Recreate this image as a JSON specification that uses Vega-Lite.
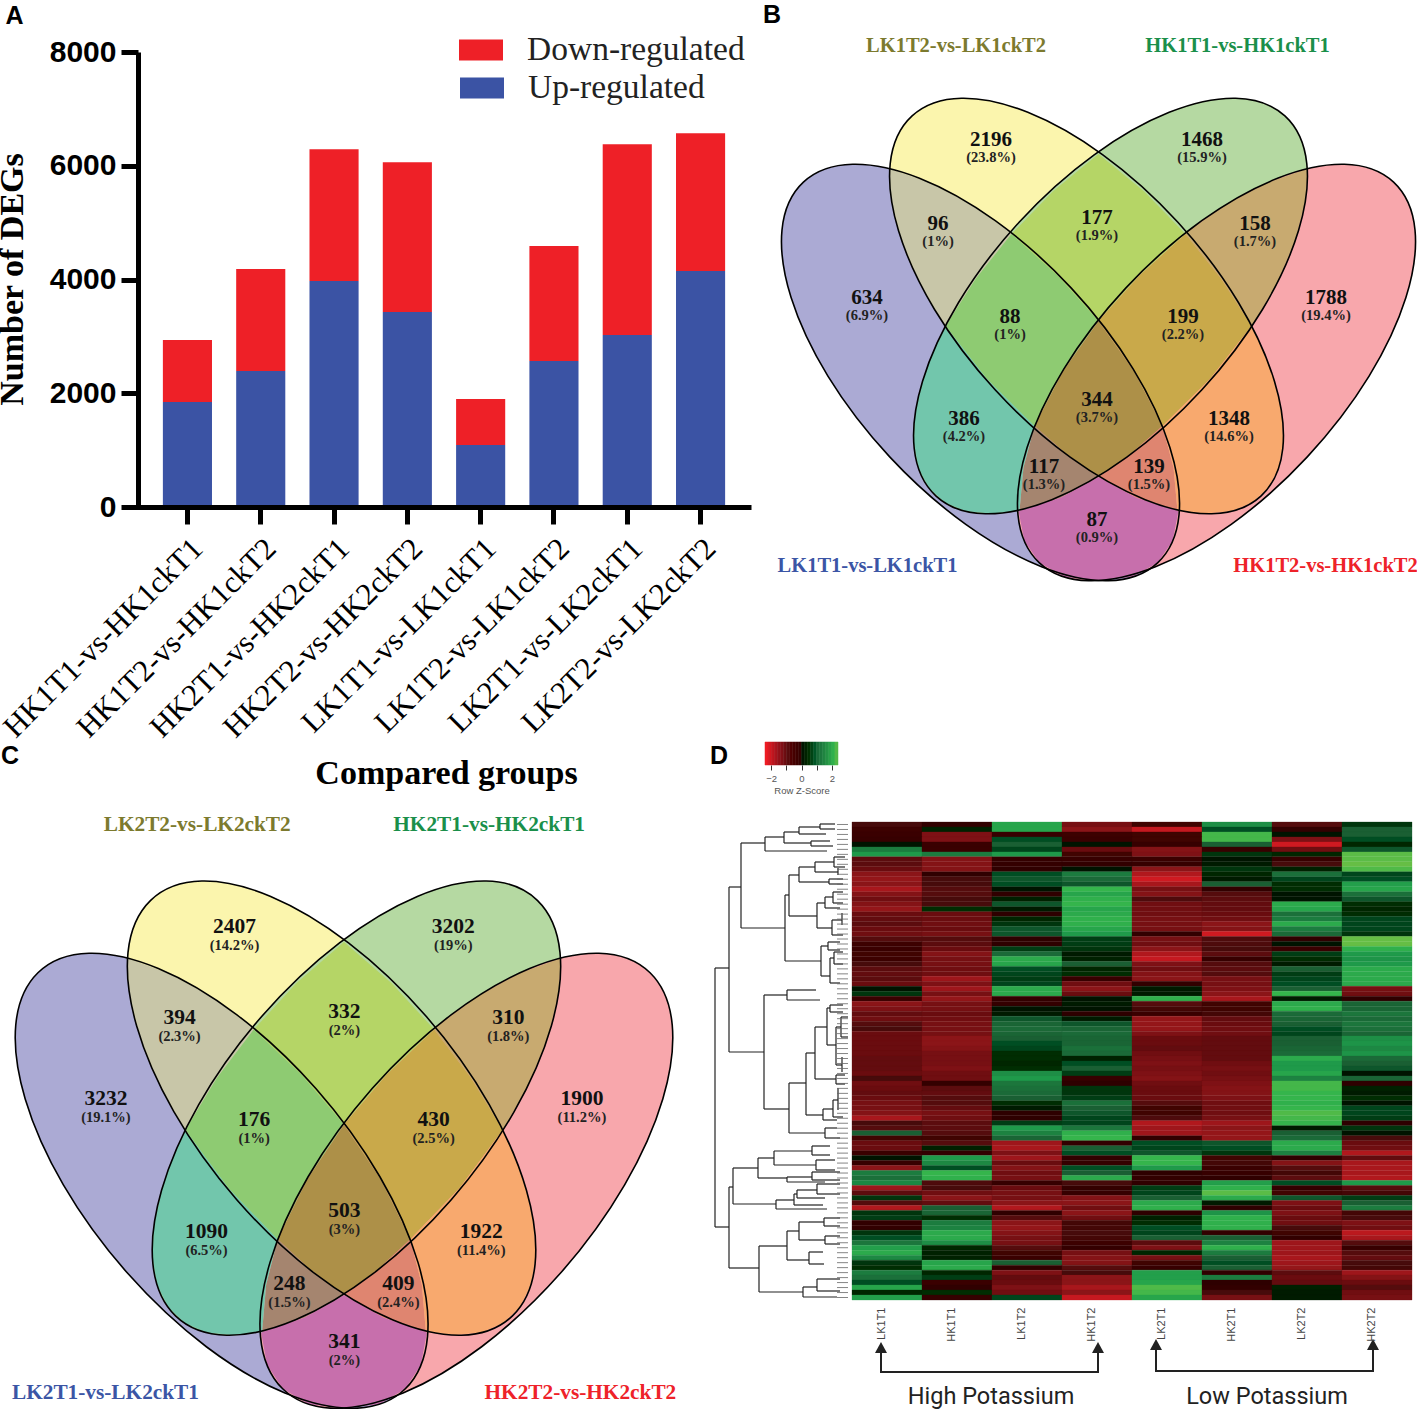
{"$schema":"https://vega.github.io/schema/vega-lite/v6.json","width":1417,"height":1409,"autosize":{"type":"none"},"padding":0,"background":"white","config":{"view":{"stroke":null},"axis":{"grid":false}},
"resolve":{"scale":{"x":"independent","y":"independent","fill":"independent","stroke":"independent","color":"independent","shape":"independent"},"axis":{"x":"independent","y":"independent"}},
"datasets":{
"bars":[{"g":"HK1T1-vs-HK1ckT1","t":"Up-regulated","n":1845,"k":0},{"g":"HK1T1-vs-HK1ckT1","t":"Down-regulated","n":1090,"k":1},{"g":"HK1T2-vs-HK1ckT2","t":"Up-regulated","n":2390,"k":0},{"g":"HK1T2-vs-HK1ckT2","t":"Down-regulated","n":1793,"k":1},{"g":"HK2T1-vs-HK2ckT1","t":"Up-regulated","n":3972,"k":0},{"g":"HK2T1-vs-HK2ckT1","t":"Down-regulated","n":2320,"k":1},{"g":"HK2T2-vs-HK2ckT2","t":"Up-regulated","n":3427,"k":0},{"g":"HK2T2-vs-HK2ckT2","t":"Down-regulated","n":2636,"k":1},{"g":"LK1T1-vs-LK1ckT1","t":"Up-regulated","n":1090,"k":0},{"g":"LK1T1-vs-LK1ckT1","t":"Down-regulated","n":808,"k":1},{"g":"LK1T2-vs-LK1ckT2","t":"Up-regulated","n":2566,"k":0},{"g":"LK1T2-vs-LK1ckT2","t":"Down-regulated","n":2021,"k":1},{"g":"LK2T1-vs-LK2ckT1","t":"Up-regulated","n":3023,"k":0},{"g":"LK2T1-vs-LK2ckT1","t":"Down-regulated","n":3357,"k":1},{"g":"LK2T2-vs-LK2ckT2","t":"Up-regulated","n":4148,"k":0},{"g":"LK2T2-vs-LK2ckT2","t":"Down-regulated","n":2425,"k":1}],
"barLegend":[{"t":"Down-regulated","k":345,"n":8035},{"t":"Up-regulated","k":346,"n":7367}],
"letters":[{"t":"A","x":14.5,"y":15.5},{"t":"B","x":772,"y":15},{"t":"C","x":10,"y":756},{"t":"D","x":719,"y":756}],
"ellipses":[{"e":"b","u":-118,"v":372.5},{"e":"y","u":-12,"v":306},{"e":"g","u":12,"v":306},{"e":"r","u":118,"v":372.5}],
"names":[{"t":"LK1T2-vs-LK1ckT2","t2":"LK2T2-vs-LK2ckT2","e":"y","u":-142.5,"v":45},{"t":"HK1T1-vs-HK1ckT1","t2":"HK2T1-vs-HK2ckT1","e":"g","u":139,"v":45},{"t":"LK1T1-vs-LK1ckT1","t2":"LK2T1-vs-LK2ckT1","e":"b","u":-231,"v":565},{"t":"HK1T2-vs-HK1ckT2","t2":"HK2T2-vs-HK2ckT2","e":"r","u":227,"v":565}],
"venn":[{"u":-107.5,"v":139,"n":"2196","s":"(23.8%)","n2":"2407","s2":"(14.2%)"},{"u":103.5,"v":139,"n":"1468","s":"(15.9%)","n2":"3202","s2":"(19%)"},{"u":-160.5,"v":223,"n":"96","s":"(1%)","n2":"394","s2":"(2.3%)"},{"u":-1.5,"v":217,"n":"177","s":"(1.9%)","n2":"332","s2":"(2%)"},{"u":156.5,"v":223,"n":"158","s":"(1.7%)","n2":"310","s2":"(1.8%)"},{"u":-231.5,"v":297,"n":"634","s":"(6.9%)","n2":"3232","s2":"(19.1%)"},{"u":-88.5,"v":316,"n":"88","s":"(1%)","n2":"176","s2":"(1%)"},{"u":84.5,"v":316,"n":"199","s":"(2.2%)","n2":"430","s2":"(2.5%)"},{"u":227.5,"v":297,"n":"1788","s":"(19.4%)","n2":"1900","s2":"(11.2%)"},{"u":-134.5,"v":418,"n":"386","s":"(4.2%)","n2":"1090","s2":"(6.5%)"},{"u":-1.5,"v":399,"n":"344","s":"(3.7%)","n2":"503","s2":"(3%)"},{"u":130.5,"v":418,"n":"1348","s":"(14.6%)","n2":"1922","s2":"(11.4%)"},{"u":-54.5,"v":466,"n":"117","s":"(1.3%)","n2":"248","s2":"(1.5%)"},{"u":50.5,"v":466,"n":"139","s":"(1.5%)","n2":"409","s2":"(2.4%)"},{"u":-1.5,"v":519,"n":"87","s":"(0.9%)","n2":"341","s2":"(2%)"}],
"patches":[
{"e":"r96","i":0,"u":-209.4,"v":168.6},{"e":"r96","i":1,"u":-169,"v":182.5},{"e":"r96","i":2,"u":-128,"v":204.2},{"e":"r96","i":3,"u":-86.3,"v":233.4},{"e":"r96","i":4,"u":-122.4,"v":278.3},{"e":"r96","i":5,"u":-153,"v":326.5},{"e":"r96","i":6,"u":-178.4,"v":283.6},{"e":"r96","i":7,"u":-196.6,"v":241.1},{"e":"r96","i":8,"u":-206.8,"v":201.5},
{"e":"r158","i":0,"u":209.4,"v":168.6},{"e":"r158","i":1,"u":169,"v":182.5},{"e":"r158","i":2,"u":128,"v":204.2},{"e":"r158","i":3,"u":86.3,"v":233.4},{"e":"r158","i":4,"u":122.4,"v":278.3},{"e":"r158","i":5,"u":153,"v":326.5},{"e":"r158","i":6,"u":178.4,"v":283.6},{"e":"r158","i":7,"u":196.6,"v":241.1},{"e":"r158","i":8,"u":206.8,"v":201.5},
{"e":"r177","i":0,"u":0,"v":154},{"e":"r177","i":1,"u":45.7,"v":191.6},{"e":"r177","i":2,"u":87,"v":234},{"e":"r177","i":3,"u":41.2,"v":275.3},{"e":"r177","i":4,"u":0,"v":321},{"e":"r177","i":5,"u":-41.2,"v":275.3},{"e":"r177","i":6,"u":-87,"v":234},{"e":"r177","i":7,"u":-45.7,"v":191.6},
{"e":"r88","i":0,"u":-87,"v":234},{"e":"r88","i":1,"u":-41.2,"v":275.3},{"e":"r88","i":2,"u":0,"v":321},{"e":"r88","i":3,"u":-35.6,"v":371.3},{"e":"r88","i":4,"u":-64,"v":426},{"e":"r88","i":5,"u":-111.7,"v":378.8},{"e":"r88","i":6,"u":-153,"v":326},{"e":"r88","i":7,"u":-122.4,"v":278.3},
{"e":"r199","i":0,"u":87,"v":234},{"e":"r199","i":1,"u":41.2,"v":275.3},{"e":"r199","i":2,"u":0,"v":321},{"e":"r199","i":3,"u":35.6,"v":371.3},{"e":"r199","i":4,"u":64,"v":426},{"e":"r199","i":5,"u":111.7,"v":378.8},{"e":"r199","i":6,"u":153,"v":326},{"e":"r199","i":7,"u":122.4,"v":278.3},
{"e":"r344","i":0,"u":0,"v":321},{"e":"r344","i":1,"u":35.6,"v":371.3},{"e":"r344","i":2,"u":64,"v":426},{"e":"r344","i":3,"u":33.3,"v":453.1},{"e":"r344","i":4,"u":0,"v":477},{"e":"r344","i":5,"u":-33.3,"v":453.1},{"e":"r344","i":6,"u":-64,"v":426},{"e":"r344","i":7,"u":-35.6,"v":371.3},
{"e":"r117","i":0,"u":-64,"v":426},{"e":"r117","i":1,"u":-33.3,"v":453.1},{"e":"r117","i":2,"u":0,"v":477},{"e":"r117","i":3,"u":-37.9,"v":497.7},{"e":"r117","i":4,"u":-79,"v":511},{"e":"r117","i":5,"u":-75.1,"v":467.9},
{"e":"r139","i":0,"u":64,"v":426},{"e":"r139","i":1,"u":33.3,"v":453.1},{"e":"r139","i":2,"u":0,"v":477},{"e":"r139","i":3,"u":37.9,"v":497.7},{"e":"r139","i":4,"u":79,"v":511},{"e":"r139","i":5,"u":75.1,"v":467.9},
{"e":"r87","i":0,"u":0,"v":477},{"e":"r87","i":1,"u":37.9,"v":497.7},{"e":"r87","i":2,"u":80,"v":511},{"e":"r87","i":3,"u":74.1,"v":541},{"e":"r87","i":4,"u":59.1,"v":562.8},{"e":"r87","i":5,"u":34.1,"v":576.9},{"e":"r87","i":6,"u":0,"v":580.5},{"e":"r87","i":7,"u":-34.1,"v":576.9},{"e":"r87","i":8,"u":-59.1,"v":562.8},{"e":"r87","i":9,"u":-74.1,"v":541},{"e":"r87","i":10,"u":-80,"v":511},{"e":"r87","i":11,"u":-37.9,"v":497.7},
{"e":"r386","i":0,"u":-153,"v":326},{"e":"r386","i":1,"u":-111.7,"v":378.8},{"e":"r386","i":2,"u":-64,"v":426},{"e":"r386","i":3,"u":-75.1,"v":467.9},{"e":"r386","i":4,"u":-79,"v":511},{"e":"r386","i":5,"u":-107.3,"v":513.6},{"e":"r386","i":6,"u":-132.8,"v":511.3},{"e":"r386","i":7,"u":-153.7,"v":502.6},{"e":"r386","i":8,"u":-169.7,"v":488},{"e":"r386","i":9,"u":-180.2,"v":467.9},{"e":"r386","i":10,"u":-184.7,"v":442.8},{"e":"r386","i":11,"u":-183.3,"v":413.6},{"e":"r386","i":12,"u":-175.9,"v":381.2},{"e":"r386","i":13,"u":-166,"v":353.4},
{"e":"r1348","i":0,"u":153,"v":326},{"e":"r1348","i":1,"u":111.7,"v":378.8},{"e":"r1348","i":2,"u":64,"v":426},{"e":"r1348","i":3,"u":75.1,"v":467.9},{"e":"r1348","i":4,"u":79,"v":511},{"e":"r1348","i":5,"u":107.3,"v":513.6},{"e":"r1348","i":6,"u":132.8,"v":511.3},{"e":"r1348","i":7,"u":153.7,"v":502.6},{"e":"r1348","i":8,"u":169.7,"v":488},{"e":"r1348","i":9,"u":180.2,"v":467.9},{"e":"r1348","i":10,"u":184.7,"v":442.8},{"e":"r1348","i":11,"u":183.3,"v":413.6},{"e":"r1348","i":12,"u":175.9,"v":381.2},{"e":"r1348","i":13,"u":166,"v":353.4}],
"dendro":[{"h":0,"h2":0,"p":146,"p2":405},{"h":0,"h2":14,"p":146,"p2":146},{"h":14,"h2":14,"p":65,"p2":230},{"h":14,"h2":26,"p":65,"p2":65},{"h":26,"h2":26,"p":21,"p2":106},{"h":26,"h2":50,"p":21,"p2":21},{"h":50,"h2":50,"p":15,"p2":29},{"h":50,"h2":69,"p":15,"p2":15},{"h":69,"h2":69,"p":10,"p2":21},{"h":69,"h2":84,"p":10,"p2":10},{"h":84,"h2":84,"p":5,"p2":12},{"h":84,"h2":105,"p":5,"p2":5},{"h":105,"h2":105,"p":2,"p2":7},{"h":105,"h2":120,"p":2,"p2":2},{"h":105,"h2":120,"p":7,"p2":7},{"h":84,"h2":111,"p":12,"p2":12},{"h":69,"h2":96,"p":21,"p2":21},{"h":96,"h2":96,"p":19,"p2":24},{"h":96,"h2":115,"p":19,"p2":19},{"h":96,"h2":118,"p":24,"p2":24},{"h":50,"h2":112,"p":29,"p2":29},{"h":26,"h2":70,"p":106,"p2":106},{"h":70,"h2":70,"p":73,"p2":139},{"h":70,"h2":74,"p":73,"p2":73},{"h":74,"h2":74,"p":53,"p2":94},{"h":74,"h2":84,"p":53,"p2":53},{"h":84,"h2":84,"p":45,"p2":60},{"h":84,"h2":100,"p":45,"p2":45},{"h":100,"h2":100,"p":40,"p2":50},{"h":100,"h2":119,"p":40,"p2":40},{"h":119,"h2":119,"p":35,"p2":45},{"h":119,"h2":130,"p":35,"p2":35},{"h":119,"h2":130,"p":45,"p2":45},{"h":100,"h2":123,"p":50,"p2":50},{"h":123,"h2":123,"p":46,"p2":53},{"h":84,"h2":114,"p":60,"p2":60},{"h":114,"h2":114,"p":57,"p2":62},{"h":114,"h2":128,"p":57,"p2":57},{"h":114,"h2":128,"p":62,"p2":62},{"h":74,"h2":102,"p":94,"p2":94},{"h":102,"h2":102,"p":81,"p2":106},{"h":102,"h2":110,"p":81,"p2":81},{"h":110,"h2":110,"p":75,"p2":86},{"h":110,"h2":118,"p":75,"p2":75},{"h":118,"h2":118,"p":70,"p2":81},{"h":118,"h2":128,"p":70,"p2":70},{"h":118,"h2":128,"p":81,"p2":81},{"h":110,"h2":125,"p":86,"p2":86},{"h":102,"h2":117,"p":106,"p2":106},{"h":117,"h2":117,"p":98,"p2":113},{"h":117,"h2":127,"p":98,"p2":98},{"h":127,"h2":127,"p":91,"p2":103},{"h":117,"h2":128,"p":113,"p2":113},{"h":70,"h2":106,"p":139,"p2":139},{"h":106,"h2":106,"p":124,"p2":154},{"h":106,"h2":113,"p":124,"p2":124},{"h":113,"h2":113,"p":120,"p2":128},{"h":113,"h2":125,"p":120,"p2":120},{"h":113,"h2":125,"p":128,"p2":128},{"h":106,"h2":115,"p":154,"p2":154},{"h":115,"h2":115,"p":136,"p2":161},{"h":115,"h2":119,"p":136,"p2":136},{"h":119,"h2":119,"p":130,"p2":142},{"h":119,"h2":128,"p":130,"p2":130},{"h":119,"h2":128,"p":142,"p2":142},{"h":115,"h2":125,"p":161,"p2":161},
{"h":14,"h2":49,"p":230,"p2":230},{"h":49,"h2":49,"p":173,"p2":287},{"h":49,"h2":72,"p":173,"p2":173},{"h":72,"h2":72,"p":168,"p2":178},{"h":72,"h2":101,"p":168,"p2":168},{"h":72,"h2":105,"p":178,"p2":178},{"h":49,"h2":74,"p":287,"p2":287},{"h":74,"h2":74,"p":261,"p2":311},{"h":74,"h2":91,"p":261,"p2":261},{"h":91,"h2":91,"p":231,"p2":293},{"h":91,"h2":100,"p":231,"p2":231},{"h":100,"h2":100,"p":205,"p2":257},{"h":100,"h2":112,"p":205,"p2":205},{"h":112,"h2":112,"p":186,"p2":223},{"h":112,"h2":115,"p":186,"p2":186},{"h":115,"h2":115,"p":183,"p2":190},{"h":115,"h2":128,"p":183,"p2":183},{"h":115,"h2":128,"p":190,"p2":190},{"h":112,"h2":121,"p":223,"p2":223},{"h":121,"h2":121,"p":205,"p2":243},{"h":121,"h2":126,"p":205,"p2":205},{"h":126,"h2":126,"p":195,"p2":215},{"h":126,"h2":133,"p":195,"p2":195},{"h":126,"h2":133,"p":215,"p2":215},{"h":121,"h2":127,"p":243,"p2":243},{"h":127,"h2":127,"p":235,"p2":250},{"h":100,"h2":121,"p":257,"p2":257},{"h":121,"h2":121,"p":253,"p2":262},{"h":121,"h2":130,"p":253,"p2":253},{"h":121,"h2":130,"p":262,"p2":262},{"h":91,"h2":108,"p":293,"p2":293},{"h":108,"h2":108,"p":287,"p2":298},{"h":108,"h2":118,"p":287,"p2":287},{"h":118,"h2":118,"p":278,"p2":295},{"h":118,"h2":123,"p":278,"p2":278},{"h":123,"h2":123,"p":266,"p2":288},{"h":118,"h2":128,"p":295,"p2":295},{"h":108,"h2":122,"p":298,"p2":298},{"h":74,"h2":110,"p":311,"p2":311},{"h":110,"h2":110,"p":306,"p2":316},{"h":110,"h2":122,"p":306,"p2":306},{"h":110,"h2":125,"p":316,"p2":316},
{"h":0,"h2":14,"p":405,"p2":405},{"h":14,"h2":14,"p":365,"p2":446},{"h":14,"h2":18,"p":365,"p2":365},{"h":18,"h2":18,"p":346,"p2":382},{"h":18,"h2":43,"p":346,"p2":346},{"h":43,"h2":43,"p":336,"p2":356},{"h":43,"h2":59,"p":336,"p2":336},{"h":59,"h2":59,"p":329,"p2":343},{"h":59,"h2":97,"p":329,"p2":329},{"h":97,"h2":97,"p":324,"p2":333},{"h":97,"h2":115,"p":324,"p2":324},{"h":97,"h2":115,"p":333,"p2":333},{"h":59,"h2":101,"p":343,"p2":343},{"h":101,"h2":101,"p":338,"p2":348},{"h":101,"h2":120,"p":338,"p2":338},{"h":101,"h2":120,"p":348,"p2":348},{"h":43,"h2":72,"p":356,"p2":356},{"h":72,"h2":72,"p":355,"p2":360},{"h":72,"h2":97,"p":355,"p2":355},{"h":97,"h2":97,"p":350,"p2":358},{"h":97,"h2":125,"p":350,"p2":350},{"h":97,"h2":125,"p":358,"p2":358},{"h":72,"h2":110,"p":360,"p2":360},{"h":18,"h2":61,"p":382,"p2":382},{"h":61,"h2":61,"p":378,"p2":387},{"h":61,"h2":79,"p":378,"p2":378},{"h":79,"h2":79,"p":372,"p2":383},{"h":79,"h2":82,"p":372,"p2":372},{"h":82,"h2":82,"p":368,"p2":376},{"h":82,"h2":102,"p":368,"p2":368},{"h":102,"h2":102,"p":362,"p2":372},{"h":102,"h2":125,"p":362,"p2":362},{"h":102,"h2":125,"p":372,"p2":372},{"h":82,"h2":110,"p":376,"p2":376},{"h":79,"h2":108,"p":383,"p2":383},{"h":61,"h2":112,"p":387,"p2":387},{"h":14,"h2":44,"p":446,"p2":446},{"h":44,"h2":44,"p":424,"p2":470},{"h":44,"h2":72,"p":424,"p2":424},{"h":72,"h2":72,"p":409,"p2":438},{"h":72,"h2":84,"p":409,"p2":409},{"h":84,"h2":84,"p":400,"p2":418},{"h":84,"h2":109,"p":400,"p2":400},{"h":109,"h2":109,"p":396,"p2":404},{"h":109,"h2":125,"p":396,"p2":396},{"h":109,"h2":125,"p":404,"p2":404},{"h":84,"h2":110,"p":418,"p2":418},{"h":110,"h2":110,"p":414,"p2":422},{"h":110,"h2":125,"p":414,"p2":414},{"h":110,"h2":125,"p":422,"p2":422},{"h":72,"h2":94,"p":438,"p2":438},{"h":94,"h2":94,"p":430,"p2":442},{"h":94,"h2":108,"p":430,"p2":430},{"h":94,"h2":109,"p":442,"p2":442},{"h":44,"h2":88,"p":470,"p2":470},{"h":88,"h2":88,"p":465,"p2":475},{"h":88,"h2":102,"p":465,"p2":465},{"h":102,"h2":102,"p":457,"p2":469},{"h":102,"h2":125,"p":457,"p2":457},{"h":102,"h2":125,"p":469,"p2":469},{"h":88,"h2":122,"p":475,"p2":475}],
"scaleKey":[{"z":-2.4,"z2":-2.2},{"z":-2.2,"z2":-2},{"z":-2,"z2":-1.8},{"z":-1.8,"z2":-1.6},{"z":-1.6,"z2":-1.4},{"z":-1.4,"z2":-1.2},{"z":-1.2,"z2":-1},{"z":-1,"z2":-0.8},{"z":-0.8,"z2":-0.6},{"z":-0.6,"z2":-0.4},{"z":-0.4,"z2":-0.2},{"z":-0.2,"z2":0},{"z":0,"z2":0.2},{"z":0.2,"z2":0.4},{"z":0.4,"z2":0.6},{"z":0.6,"z2":0.8},{"z":0.8,"z2":1},{"z":1,"z2":1.2},{"z":1.2,"z2":1.4},{"z":1.4,"z2":1.6},{"z":1.6,"z2":1.8},{"z":1.8,"z2":2},{"z":2,"z2":2.2},{"z":2.2,"z2":2.4}],
"brackets":[{"b":"High","i":0,"k":29,"q":525},{"b":"High","i":1,"k":29,"q":550},{"b":"High","i":2,"k":246,"q":550},{"b":"High","i":3,"k":246,"q":525},{"b":"Low","i":0,"k":304,"q":523},{"b":"Low","i":1,"k":304,"q":549},{"b":"Low","i":2,"k":521,"q":549},{"b":"Low","i":3,"k":521,"q":523}],
"arrowTips":[{"k":29,"q":520},{"k":246,"q":520},{"k":304,"q":517},{"k":521,"q":517}],
"potassium":[{"t":"High Potassium","k":139,"q":575},{"t":"Low Potassium","k":415,"q":575}],
"heat":[
{"r":0,"c":"LK1T1","z":-1},{"r":0,"c":"HK1T1","z":-0.3},{"r":0,"c":"LK1T2","z":2.2},{"r":0,"c":"HK1T2","z":-1.7},{"r":0,"c":"LK2T1","z":-0.8},{"r":0,"c":"HK2T1","z":1.8},{"r":0,"c":"LK2T2","z":-1.2},{"r":0,"c":"HK2T2","z":0.5},
{"r":1,"c":"LK1T1","z":-0.7},{"r":1,"c":"HK1T1","z":0.2},{"r":1,"c":"LK1T2","z":2.2},{"r":1,"c":"HK1T2","z":-2},{"r":1,"c":"LK2T1","z":-2.6},{"r":1,"c":"HK2T1","z":0.8},{"r":1,"c":"LK2T2","z":-0.3},{"r":1,"c":"HK2T2","z":1},
{"r":2,"c":"LK1T1","z":-0.6},{"r":2,"c":"HK1T1","z":-1.8},{"r":2,"c":"LK1T2","z":-0.5},{"r":2,"c":"HK1T2","z":-0.7},{"r":2,"c":"LK2T1","z":-0.8},{"r":2,"c":"HK2T1","z":2.6},{"r":2,"c":"LK2T2","z":0},{"r":2,"c":"HK2T2","z":1},
{"r":3,"c":"LK1T1","z":-0.5},{"r":3,"c":"HK1T1","z":-1.8},{"r":3,"c":"LK1T2","z":0.8},{"r":3,"c":"HK1T2","z":-0.6},{"r":3,"c":"LK2T1","z":-0.8},{"r":3,"c":"HK2T1","z":2.6},{"r":3,"c":"LK2T2","z":-1.8},{"r":3,"c":"HK2T2","z":0.8},
{"r":4,"c":"LK1T1","z":0},{"r":4,"c":"HK1T1","z":-0.6},{"r":4,"c":"LK1T2","z":1},{"r":4,"c":"HK1T2","z":0},{"r":4,"c":"LK2T1","z":-0.5},{"r":4,"c":"HK2T1","z":1},{"r":4,"c":"LK2T2","z":-2.7},{"r":4,"c":"HK2T2","z":0.3},
{"r":5,"c":"LK1T1","z":1.5},{"r":5,"c":"HK1T1","z":-0.6},{"r":5,"c":"LK1T2","z":0.7},{"r":5,"c":"HK1T2","z":-1.5},{"r":5,"c":"LK2T1","z":-1.9},{"r":5,"c":"HK2T1","z":-0.5},{"r":5,"c":"LK2T2","z":-1.6},{"r":5,"c":"HK2T2","z":0.9},
{"r":6,"c":"LK1T1","z":2},{"r":6,"c":"HK1T1","z":1.5},{"r":6,"c":"LK1T2","z":2},{"r":6,"c":"HK1T2","z":-0.8},{"r":6,"c":"LK2T1","z":-1.8},{"r":6,"c":"HK2T1","z":0.5},{"r":6,"c":"LK2T2","z":0.3},{"r":6,"c":"HK2T2","z":2.8},
{"r":7,"c":"LK1T1","z":-1.3},{"r":7,"c":"HK1T1","z":-1.9},{"r":7,"c":"LK1T2","z":-0.4},{"r":7,"c":"HK1T2","z":-0.5},{"r":7,"c":"LK2T1","z":-0.6},{"r":7,"c":"HK2T1","z":0},{"r":7,"c":"LK2T2","z":-0.5},{"r":7,"c":"HK2T2","z":2.8},
{"r":8,"c":"LK1T1","z":-1.3},{"r":8,"c":"HK1T1","z":-1.9},{"r":8,"c":"LK1T2","z":-0.4},{"r":8,"c":"HK1T2","z":-0.3},{"r":8,"c":"LK2T1","z":-0.5},{"r":8,"c":"HK2T1","z":0.1},{"r":8,"c":"LK2T2","z":-1},{"r":8,"c":"HK2T2","z":2.9},
{"r":9,"c":"LK1T1","z":-1.5},{"r":9,"c":"HK1T1","z":-1.9},{"r":9,"c":"LK1T2","z":-0.2},{"r":9,"c":"HK1T2","z":0},{"r":9,"c":"LK2T1","z":-2},{"r":9,"c":"HK2T1","z":0.5},{"r":9,"c":"LK2T2","z":0.2},{"r":9,"c":"HK2T2","z":2.7},
{"r":10,"c":"LK1T1","z":-2},{"r":10,"c":"HK1T1","z":-0.2},{"r":10,"c":"LK1T2","z":0.8},{"r":10,"c":"HK1T2","z":1.5},{"r":10,"c":"LK2T1","z":-2.4},{"r":10,"c":"HK2T1","z":0.3},{"r":10,"c":"LK2T2","z":1.3},{"r":10,"c":"HK2T2","z":0.7},
{"r":11,"c":"LK1T1","z":-2.1},{"r":11,"c":"HK1T1","z":-1},{"r":11,"c":"LK1T2","z":0.9},{"r":11,"c":"HK1T2","z":1.2},{"r":11,"c":"LK2T1","z":-2.7},{"r":11,"c":"HK2T1","z":0.1},{"r":11,"c":"LK2T2","z":0.7},{"r":11,"c":"HK2T2","z":0.8},
{"r":12,"c":"LK1T1","z":-2},{"r":12,"c":"HK1T1","z":-1},{"r":12,"c":"LK1T2","z":0.8},{"r":12,"c":"HK1T2","z":0.9},{"r":12,"c":"LK2T1","z":-2.3},{"r":12,"c":"HK2T1","z":1},{"r":12,"c":"LK2T2","z":0.4},{"r":12,"c":"HK2T2","z":2.1},
{"r":13,"c":"LK1T1","z":-2.3},{"r":13,"c":"HK1T1","z":-1.2},{"r":13,"c":"LK1T2","z":0},{"r":13,"c":"HK1T2","z":2.5},{"r":13,"c":"LK2T1","z":-1.7},{"r":13,"c":"HK2T1","z":-0.3},{"r":13,"c":"LK2T2","z":0.4},{"r":13,"c":"HK2T2","z":2.2},
{"r":14,"c":"LK1T1","z":-1.9},{"r":14,"c":"HK1T1","z":-1.2},{"r":14,"c":"LK1T2","z":-0.2},{"r":14,"c":"HK1T2","z":2.2},{"r":14,"c":"LK2T1","z":-1.9},{"r":14,"c":"HK2T1","z":-1.2},{"r":14,"c":"LK2T2","z":0},{"r":14,"c":"HK2T2","z":1.3},
{"r":15,"c":"LK1T1","z":-1.6},{"r":15,"c":"HK1T1","z":-1},{"r":15,"c":"LK1T2","z":0.2},{"r":15,"c":"HK1T2","z":2.4},{"r":15,"c":"LK2T1","z":-1.1},{"r":15,"c":"HK2T1","z":-1.3},{"r":15,"c":"LK2T2","z":0},{"r":15,"c":"HK2T2","z":0.9},
{"r":16,"c":"LK1T1","z":-1.9},{"r":16,"c":"HK1T1","z":-1},{"r":16,"c":"LK1T2","z":0.9},{"r":16,"c":"HK1T2","z":2.5},{"r":16,"c":"LK2T1","z":-1.6},{"r":16,"c":"HK2T1","z":-1.4},{"r":16,"c":"LK2T2","z":2.3},{"r":16,"c":"HK2T2","z":0.4},
{"r":17,"c":"LK1T1","z":-2.1},{"r":17,"c":"HK1T1","z":0.4},{"r":17,"c":"LK1T2","z":0.1},{"r":17,"c":"HK1T2","z":2.2},{"r":17,"c":"LK2T1","z":-1.6},{"r":17,"c":"HK2T1","z":-1.4},{"r":17,"c":"LK2T2","z":2.2},{"r":17,"c":"HK2T2","z":0.3},
{"r":18,"c":"LK1T1","z":-1.5},{"r":18,"c":"HK1T1","z":-1.5},{"r":18,"c":"LK1T2","z":-0.1},{"r":18,"c":"HK1T2","z":2.3},{"r":18,"c":"LK2T1","z":-1.6},{"r":18,"c":"HK2T1","z":-1.5},{"r":18,"c":"LK2T2","z":1.3},{"r":18,"c":"HK2T2","z":0.4},
{"r":19,"c":"LK1T1","z":-1.4},{"r":19,"c":"HK1T1","z":-1.5},{"r":19,"c":"LK1T2","z":0.3},{"r":19,"c":"HK1T2","z":2.4},{"r":19,"c":"LK2T1","z":-1.7},{"r":19,"c":"HK2T1","z":-1.6},{"r":19,"c":"LK2T2","z":1.5},{"r":19,"c":"HK2T2","z":0.7},
{"r":20,"c":"LK1T1","z":-1.3},{"r":20,"c":"HK1T1","z":-1.6},{"r":20,"c":"LK1T2","z":0.5},{"r":20,"c":"HK1T2","z":2.4},{"r":20,"c":"LK2T1","z":-1.7},{"r":20,"c":"HK2T1","z":-2},{"r":20,"c":"LK2T2","z":2.3},{"r":20,"c":"HK2T2","z":0.7},
{"r":21,"c":"LK1T1","z":-1.5},{"r":21,"c":"HK1T1","z":-1.5},{"r":21,"c":"LK1T2","z":0.9},{"r":21,"c":"HK1T2","z":2.2},{"r":21,"c":"LK2T1","z":-1.7},{"r":21,"c":"HK2T1","z":-1.9},{"r":21,"c":"LK2T2","z":1.5},{"r":21,"c":"HK2T2","z":0.7},
{"r":22,"c":"LK1T1","z":-1.6},{"r":22,"c":"HK1T1","z":-1.7},{"r":22,"c":"LK1T2","z":0.9},{"r":22,"c":"HK1T2","z":2},{"r":22,"c":"LK2T1","z":-0.3},{"r":22,"c":"HK2T1","z":-2.7},{"r":22,"c":"LK2T2","z":1.2},{"r":22,"c":"HK2T2","z":0.5},
{"r":23,"c":"LK1T1","z":-1.2},{"r":23,"c":"HK1T1","z":-1.2},{"r":23,"c":"LK1T2","z":-0.1},{"r":23,"c":"HK1T2","z":0.6},{"r":23,"c":"LK2T1","z":-1.7},{"r":23,"c":"HK2T1","z":-1.1},{"r":23,"c":"LK2T2","z":-0.2},{"r":23,"c":"HK2T2","z":2.9},
{"r":24,"c":"LK1T1","z":-0.7},{"r":24,"c":"HK1T1","z":-1.3},{"r":24,"c":"LK1T2","z":-0.1},{"r":24,"c":"HK1T2","z":0.6},{"r":24,"c":"LK2T1","z":-1.6},{"r":24,"c":"HK2T1","z":-1.1},{"r":24,"c":"LK2T2","z":0},{"r":24,"c":"HK2T2","z":2.9},
{"r":25,"c":"LK1T1","z":-0.6},{"r":25,"c":"HK1T1","z":-1.5},{"r":25,"c":"LK1T2","z":0.6},{"r":25,"c":"HK1T2","z":0.5},{"r":25,"c":"LK2T1","z":-2},{"r":25,"c":"HK2T1","z":-1},{"r":25,"c":"LK2T2","z":-0.6},{"r":25,"c":"HK2T2","z":2.4},
{"r":26,"c":"LK1T1","z":-0.8},{"r":26,"c":"HK1T1","z":-1.9},{"r":26,"c":"LK1T2","z":1.2},{"r":26,"c":"HK1T2","z":0.1},{"r":26,"c":"LK2T1","z":-2.4},{"r":26,"c":"HK2T1","z":-1.3},{"r":26,"c":"LK2T2","z":0.6},{"r":26,"c":"HK2T2","z":2},
{"r":27,"c":"LK1T1","z":-0.7},{"r":27,"c":"HK1T1","z":-1.7},{"r":27,"c":"LK1T2","z":2.3},{"r":27,"c":"HK1T2","z":0.2},{"r":27,"c":"LK2T1","z":-2.6},{"r":27,"c":"HK2T1","z":-0.5},{"r":27,"c":"LK2T2","z":0.4},{"r":27,"c":"HK2T2","z":1.9},
{"r":28,"c":"LK1T1","z":-1},{"r":28,"c":"HK1T1","z":-1.7},{"r":28,"c":"LK1T2","z":2.2},{"r":28,"c":"HK1T2","z":1},{"r":28,"c":"LK2T1","z":-1.8},{"r":28,"c":"HK2T1","z":-1.2},{"r":28,"c":"LK2T2","z":0.1},{"r":28,"c":"HK2T2","z":2},
{"r":29,"c":"LK1T1","z":-1.3},{"r":29,"c":"HK1T1","z":-1.6},{"r":29,"c":"LK1T2","z":0.8},{"r":29,"c":"HK1T2","z":0.3},{"r":29,"c":"LK2T1","z":-1.6},{"r":29,"c":"HK2T1","z":-1.3},{"r":29,"c":"LK2T2","z":1},{"r":29,"c":"HK2T2","z":2.3},
{"r":30,"c":"LK1T1","z":-1.4},{"r":30,"c":"HK1T1","z":-1.6},{"r":30,"c":"LK1T2","z":0.7},{"r":30,"c":"HK1T2","z":0.4},{"r":30,"c":"LK2T1","z":-1.9},{"r":30,"c":"HK2T1","z":-1.2},{"r":30,"c":"LK2T2","z":0.6},{"r":30,"c":"HK2T2","z":2.3},
{"r":31,"c":"LK1T1","z":-1.3},{"r":31,"c":"HK1T1","z":-2.2},{"r":31,"c":"LK1T2","z":0.6},{"r":31,"c":"HK1T2","z":-0.5},{"r":31,"c":"LK2T1","z":-2},{"r":31,"c":"HK2T1","z":-1.7},{"r":31,"c":"LK2T2","z":0.7},{"r":31,"c":"HK2T2","z":2.3},
{"r":32,"c":"LK1T1","z":-1.5},{"r":32,"c":"HK1T1","z":-1.8},{"r":32,"c":"LK1T2","z":0.7},{"r":32,"c":"HK1T2","z":-1.6},{"r":32,"c":"LK2T1","z":-0.3},{"r":32,"c":"HK2T1","z":-1.7},{"r":32,"c":"LK2T2","z":0.8},{"r":32,"c":"HK2T2","z":2.3},
{"r":33,"c":"LK1T1","z":0},{"r":33,"c":"HK1T1","z":-2.2},{"r":33,"c":"LK1T2","z":2.3},{"r":33,"c":"HK1T2","z":-2},{"r":33,"c":"LK2T1","z":0.1},{"r":33,"c":"HK2T1","z":-1.8},{"r":33,"c":"LK2T2","z":1},{"r":33,"c":"HK2T2","z":-1.7},
{"r":34,"c":"LK1T1","z":0.5},{"r":34,"c":"HK1T1","z":-1.7},{"r":34,"c":"LK1T2","z":2.3},{"r":34,"c":"HK1T2","z":-1.5},{"r":34,"c":"LK2T1","z":0.1},{"r":34,"c":"HK2T1","z":-2},{"r":34,"c":"LK2T2","z":2.5},{"r":34,"c":"HK2T2","z":-1.6},
{"r":35,"c":"LK1T1","z":-0.6},{"r":35,"c":"HK1T1","z":-2.1},{"r":35,"c":"LK1T2","z":-0.4},{"r":35,"c":"HK1T2","z":0},{"r":35,"c":"LK2T1","z":2.4},{"r":35,"c":"HK2T1","z":-2.3},{"r":35,"c":"LK2T2","z":0.1},{"r":35,"c":"HK2T2","z":-0.1},
{"r":36,"c":"LK1T1","z":-2},{"r":36,"c":"HK1T1","z":-1.7},{"r":36,"c":"LK1T2","z":-0.4},{"r":36,"c":"HK1T2","z":0.1},{"r":36,"c":"LK2T1","z":-1.2},{"r":36,"c":"HK2T1","z":-0.8},{"r":36,"c":"LK2T2","z":2.3},{"r":36,"c":"HK2T2","z":1.1},
{"r":37,"c":"LK1T1","z":-1.8},{"r":37,"c":"HK1T1","z":-1.7},{"r":37,"c":"LK1T2","z":0},{"r":37,"c":"HK1T2","z":0},{"r":37,"c":"LK2T1","z":-0.9},{"r":37,"c":"HK2T1","z":-0.8},{"r":37,"c":"LK2T2","z":2.4},{"r":37,"c":"HK2T2","z":1.1},
{"r":38,"c":"LK1T1","z":-1.4},{"r":38,"c":"HK1T1","z":-1.5},{"r":38,"c":"LK1T2","z":0.1},{"r":38,"c":"HK1T2","z":-0.1},{"r":38,"c":"LK2T1","z":-0.6},{"r":38,"c":"HK2T1","z":-0.9},{"r":38,"c":"LK2T2","z":1.2},{"r":38,"c":"HK2T2","z":1.4},
{"r":39,"c":"LK1T1","z":-1.6},{"r":39,"c":"HK1T1","z":-1.6},{"r":39,"c":"LK1T2","z":0.9},{"r":39,"c":"HK1T2","z":0.1},{"r":39,"c":"LK2T1","z":-2.1},{"r":39,"c":"HK2T1","z":-1.4},{"r":39,"c":"LK2T2","z":1.1},{"r":39,"c":"HK2T2","z":1.2},
{"r":40,"c":"LK1T1","z":-1.2},{"r":40,"c":"HK1T1","z":-1.7},{"r":40,"c":"LK1T2","z":1.1},{"r":40,"c":"HK1T2","z":0.9},{"r":40,"c":"LK2T1","z":-2.1},{"r":40,"c":"HK2T1","z":-1.5},{"r":40,"c":"LK2T2","z":1},{"r":40,"c":"HK2T2","z":1.4},
{"r":41,"c":"LK1T1","z":-1},{"r":41,"c":"HK1T1","z":-1.7},{"r":41,"c":"LK1T2","z":1.2},{"r":41,"c":"HK1T2","z":1.1},{"r":41,"c":"LK2T1","z":-2.1},{"r":41,"c":"HK2T1","z":-1.6},{"r":41,"c":"LK2T2","z":0.8},{"r":41,"c":"HK2T2","z":1.3},
{"r":42,"c":"LK1T1","z":-1.5},{"r":42,"c":"HK1T1","z":-1.7},{"r":42,"c":"LK1T2","z":1.1},{"r":42,"c":"HK1T2","z":1.2},{"r":42,"c":"LK2T1","z":-1.8},{"r":42,"c":"HK2T1","z":-1.6},{"r":42,"c":"LK2T2","z":0.7},{"r":42,"c":"HK2T2","z":1.1},
{"r":43,"c":"LK1T1","z":-1.5},{"r":43,"c":"HK1T1","z":-2},{"r":43,"c":"LK1T2","z":1},{"r":43,"c":"HK1T2","z":1.1},{"r":43,"c":"LK2T1","z":-1.5},{"r":43,"c":"HK2T1","z":-1.4},{"r":43,"c":"LK2T2","z":1},{"r":43,"c":"HK2T2","z":1.8},
{"r":44,"c":"LK1T1","z":-1.5},{"r":44,"c":"HK1T1","z":-2},{"r":44,"c":"LK1T2","z":0.8},{"r":44,"c":"HK1T2","z":1.1},{"r":44,"c":"LK2T1","z":-1.5},{"r":44,"c":"HK2T1","z":-1.4},{"r":44,"c":"LK2T2","z":1},{"r":44,"c":"HK2T2","z":1.9},
{"r":45,"c":"LK1T1","z":-1.5},{"r":45,"c":"HK1T1","z":-1.9},{"r":45,"c":"LK1T2","z":0.7},{"r":45,"c":"HK1T2","z":1.3},{"r":45,"c":"LK2T1","z":-1.4},{"r":45,"c":"HK2T1","z":-1.4},{"r":45,"c":"LK2T2","z":1.1},{"r":45,"c":"HK2T2","z":1.7},
{"r":46,"c":"LK1T1","z":-1.5},{"r":46,"c":"HK1T1","z":-1.7},{"r":46,"c":"LK1T2","z":0.4},{"r":46,"c":"HK1T2","z":1.2},{"r":46,"c":"LK2T1","z":-1.6},{"r":46,"c":"HK2T1","z":-1.4},{"r":46,"c":"LK2T2","z":1.2},{"r":46,"c":"HK2T2","z":1.9},
{"r":47,"c":"LK1T1","z":-1.4},{"r":47,"c":"HK1T1","z":-1.7},{"r":47,"c":"LK1T2","z":0.4},{"r":47,"c":"HK1T2","z":0.2},{"r":47,"c":"LK2T1","z":-1.7},{"r":47,"c":"HK2T1","z":-1.4},{"r":47,"c":"LK2T2","z":2.3},{"r":47,"c":"HK2T2","z":1.2},
{"r":48,"c":"LK1T1","z":-1.4},{"r":48,"c":"HK1T1","z":-1.7},{"r":48,"c":"LK1T2","z":0.3},{"r":48,"c":"HK1T2","z":0.8},{"r":48,"c":"LK2T1","z":-1.8},{"r":48,"c":"HK2T1","z":-1.6},{"r":48,"c":"LK2T2","z":2},{"r":48,"c":"HK2T2","z":1},
{"r":49,"c":"LK1T1","z":-1.4},{"r":49,"c":"HK1T1","z":-1.8},{"r":49,"c":"LK1T2","z":0.4},{"r":49,"c":"HK1T2","z":1},{"r":49,"c":"LK2T1","z":-1.7},{"r":49,"c":"HK2T1","z":-1.7},{"r":49,"c":"LK2T2","z":2},{"r":49,"c":"HK2T2","z":0.9},
{"r":50,"c":"LK1T1","z":-1.5},{"r":50,"c":"HK1T1","z":-1.6},{"r":50,"c":"LK1T2","z":1.8},{"r":50,"c":"HK1T2","z":0.6},{"r":50,"c":"LK2T1","z":-1.8},{"r":50,"c":"HK2T1","z":-1.6},{"r":50,"c":"LK2T2","z":2.2},{"r":50,"c":"HK2T2","z":0},
{"r":51,"c":"LK1T1","z":-1},{"r":51,"c":"HK1T1","z":-1.6},{"r":51,"c":"LK1T2","z":2},{"r":51,"c":"HK1T2","z":-0.5},{"r":51,"c":"LK2T1","z":-1.9},{"r":51,"c":"HK2T1","z":-1.7},{"r":51,"c":"LK2T2","z":1.6},{"r":51,"c":"HK2T2","z":1.1},
{"r":52,"c":"LK1T1","z":-1.6},{"r":52,"c":"HK1T1","z":-0.4},{"r":52,"c":"LK1T2","z":1.4},{"r":52,"c":"HK1T2","z":-0.1},{"r":52,"c":"LK2T1","z":-1.6},{"r":52,"c":"HK2T1","z":-1.8},{"r":52,"c":"LK2T2","z":2.6},{"r":52,"c":"HK2T2","z":-0.1},
{"r":53,"c":"LK1T1","z":-1.5},{"r":53,"c":"HK1T1","z":-1.3},{"r":53,"c":"LK1T2","z":1.3},{"r":53,"c":"HK1T2","z":0.5},{"r":53,"c":"LK2T1","z":-1.5},{"r":53,"c":"HK2T1","z":-1.9},{"r":53,"c":"LK2T2","z":2.6},{"r":53,"c":"HK2T2","z":0.2},
{"r":54,"c":"LK1T1","z":-1.4},{"r":54,"c":"HK1T1","z":-1.4},{"r":54,"c":"LK1T2","z":1.2},{"r":54,"c":"HK1T2","z":0.5},{"r":54,"c":"LK2T1","z":-1.5},{"r":54,"c":"HK2T1","z":-1.9},{"r":54,"c":"LK2T2","z":2.5},{"r":54,"c":"HK2T2","z":0.1},
{"r":55,"c":"LK1T1","z":-1.5},{"r":55,"c":"HK1T1","z":-1.2},{"r":55,"c":"LK1T2","z":1},{"r":55,"c":"HK1T2","z":0.6},{"r":55,"c":"LK2T1","z":-1.5},{"r":55,"c":"HK2T1","z":-1.8},{"r":55,"c":"LK2T2","z":2.5},{"r":55,"c":"HK2T2","z":0.4},
{"r":56,"c":"LK1T1","z":-1.7},{"r":56,"c":"HK1T1","z":-1.2},{"r":56,"c":"LK1T2","z":0.4},{"r":56,"c":"HK1T2","z":1.3},{"r":56,"c":"LK2T1","z":-1.2},{"r":56,"c":"HK2T1","z":-1.6},{"r":56,"c":"LK2T2","z":2.4},{"r":56,"c":"HK2T2","z":0},
{"r":57,"c":"LK1T1","z":-1.7},{"r":57,"c":"HK1T1","z":-1.4},{"r":57,"c":"LK1T2","z":0.1},{"r":57,"c":"HK1T2","z":1},{"r":57,"c":"LK2T1","z":-0.8},{"r":57,"c":"HK2T1","z":-1.6},{"r":57,"c":"LK2T2","z":2.5},{"r":57,"c":"HK2T2","z":0.7},
{"r":58,"c":"LK1T1","z":-1.9},{"r":58,"c":"HK1T1","z":-1.7},{"r":58,"c":"LK1T2","z":-0.1},{"r":58,"c":"HK1T2","z":0.9},{"r":58,"c":"LK2T1","z":-0.8},{"r":58,"c":"HK2T1","z":-1.6},{"r":58,"c":"LK2T2","z":2.7},{"r":58,"c":"HK2T2","z":0.7},
{"r":59,"c":"LK1T1","z":-2.3},{"r":59,"c":"HK1T1","z":-1.6},{"r":59,"c":"LK1T2","z":-0.1},{"r":59,"c":"HK1T2","z":0.7},{"r":59,"c":"LK2T1","z":-1.1},{"r":59,"c":"HK2T1","z":-1.7},{"r":59,"c":"LK2T2","z":2.6},{"r":59,"c":"HK2T2","z":0.6},
{"r":60,"c":"LK1T1","z":-1},{"r":60,"c":"HK1T1","z":-1.3},{"r":60,"c":"LK1T2","z":0.6},{"r":60,"c":"HK1T2","z":0.7},{"r":60,"c":"LK2T1","z":-2.4},{"r":60,"c":"HK2T1","z":-2.2},{"r":60,"c":"LK2T2","z":2.5},{"r":60,"c":"HK2T2","z":-0.1},
{"r":61,"c":"LK1T1","z":-1.2},{"r":61,"c":"HK1T1","z":-1.3},{"r":61,"c":"LK1T2","z":2},{"r":61,"c":"HK1T2","z":1.4},{"r":61,"c":"LK2T1","z":-2.2},{"r":61,"c":"HK2T1","z":-2},{"r":61,"c":"LK2T2","z":0.1},{"r":61,"c":"HK2T2","z":0.5},
{"r":62,"c":"LK1T1","z":1},{"r":62,"c":"HK1T1","z":-1.2},{"r":62,"c":"LK1T2","z":1.6},{"r":62,"c":"HK1T2","z":2.4},{"r":62,"c":"LK2T1","z":-2.2},{"r":62,"c":"HK2T1","z":-2.1},{"r":62,"c":"LK2T2","z":1},{"r":62,"c":"HK2T2","z":0},
{"r":63,"c":"LK1T1","z":-0.8},{"r":63,"c":"HK1T1","z":-0.8},{"r":63,"c":"LK1T2","z":1.1},{"r":63,"c":"HK1T2","z":2.5},{"r":63,"c":"LK2T1","z":-0.2},{"r":63,"c":"HK2T1","z":-2.1},{"r":63,"c":"LK2T2","z":1.2},{"r":63,"c":"HK2T2","z":-1},
{"r":64,"c":"LK1T1","z":-1.5},{"r":64,"c":"HK1T1","z":-1.2},{"r":64,"c":"LK1T2","z":-2.2},{"r":64,"c":"HK1T2","z":-0.3},{"r":64,"c":"LK2T1","z":0.8},{"r":64,"c":"HK2T1","z":0.9},{"r":64,"c":"LK2T2","z":2.3},{"r":64,"c":"HK2T2","z":-1.5},
{"r":65,"c":"LK1T1","z":-1.5},{"r":65,"c":"HK1T1","z":0.2},{"r":65,"c":"LK1T2","z":-2.3},{"r":65,"c":"HK1T2","z":1},{"r":65,"c":"LK2T1","z":0.7},{"r":65,"c":"HK2T1","z":0.8},{"r":65,"c":"LK2T2","z":2.3},{"r":65,"c":"HK2T2","z":-1.6},
{"r":66,"c":"LK1T1","z":-0.6},{"r":66,"c":"HK1T1","z":-0.3},{"r":66,"c":"LK1T2","z":-1.8},{"r":66,"c":"HK1T2","z":0.8},{"r":66,"c":"LK2T1","z":0.9},{"r":66,"c":"HK2T1","z":0.5},{"r":66,"c":"LK2T2","z":1.6},{"r":66,"c":"HK2T2","z":-2.4},
{"r":67,"c":"LK1T1","z":0},{"r":67,"c":"HK1T1","z":2},{"r":67,"c":"LK1T2","z":-2.2},{"r":67,"c":"HK1T2","z":-0.3},{"r":67,"c":"LK2T1","z":2.5},{"r":67,"c":"HK2T1","z":-0.8},{"r":67,"c":"LK2T2","z":-0.2},{"r":67,"c":"HK2T2","z":-1.4},
{"r":68,"c":"LK1T1","z":-0.5},{"r":68,"c":"HK1T1","z":1.7},{"r":68,"c":"LK1T2","z":-1.5},{"r":68,"c":"HK1T2","z":-0.4},{"r":68,"c":"LK2T1","z":2.5},{"r":68,"c":"HK2T1","z":-0.9},{"r":68,"c":"LK2T2","z":-1.9},{"r":68,"c":"HK2T2","z":-2.3},
{"r":69,"c":"LK1T1","z":-2},{"r":69,"c":"HK1T1","z":0.8},{"r":69,"c":"LK1T2","z":-1.9},{"r":69,"c":"HK1T2","z":0.8},{"r":69,"c":"LK2T1","z":2},{"r":69,"c":"HK2T1","z":-0.6},{"r":69,"c":"LK2T2","z":-1.2},{"r":69,"c":"HK2T2","z":-2.3},
{"r":70,"c":"LK1T1","z":1.5},{"r":70,"c":"HK1T1","z":2.5},{"r":70,"c":"LK1T2","z":-1.6},{"r":70,"c":"HK1T2","z":1},{"r":70,"c":"LK2T1","z":-0.1},{"r":70,"c":"HK2T1","z":-0.5},{"r":70,"c":"LK2T2","z":-0.9},{"r":70,"c":"HK2T2","z":-2.3},
{"r":71,"c":"LK1T1","z":1.3},{"r":71,"c":"HK1T1","z":2.4},{"r":71,"c":"LK1T2","z":-1.7},{"r":71,"c":"HK1T2","z":2.3},{"r":71,"c":"LK2T1","z":-0.3},{"r":71,"c":"HK2T1","z":-0.2},{"r":71,"c":"LK2T2","z":-1.3},{"r":71,"c":"HK2T2","z":-2.4},
{"r":72,"c":"LK1T1","z":1.7},{"r":72,"c":"HK1T1","z":-1.1},{"r":72,"c":"LK1T2","z":-0.5},{"r":72,"c":"HK1T2","z":-1},{"r":72,"c":"LK2T1","z":-0.2},{"r":72,"c":"HK2T1","z":2.1},{"r":72,"c":"LK2T2","z":0.8},{"r":72,"c":"HK2T2","z":2},
{"r":73,"c":"LK1T1","z":-2.2},{"r":73,"c":"HK1T1","z":-1},{"r":73,"c":"LK1T2","z":-1.5},{"r":73,"c":"HK1T2","z":-0.4},{"r":73,"c":"LK2T1","z":0.6},{"r":73,"c":"HK2T1","z":2.4},{"r":73,"c":"LK2T2","z":-0.4},{"r":73,"c":"HK2T2","z":-1.2},
{"r":74,"c":"LK1T1","z":-1.3},{"r":74,"c":"HK1T1","z":-1.6},{"r":74,"c":"LK1T2","z":-1.7},{"r":74,"c":"HK1T2","z":-0.5},{"r":74,"c":"LK2T1","z":0.7},{"r":74,"c":"HK2T1","z":2.8},{"r":74,"c":"LK2T2","z":-0.8},{"r":74,"c":"HK2T2","z":-0.9},
{"r":75,"c":"LK1T1","z":0.5},{"r":75,"c":"HK1T1","z":-2},{"r":75,"c":"LK1T2","z":-1.7},{"r":75,"c":"HK1T2","z":-1.9},{"r":75,"c":"LK2T1","z":1},{"r":75,"c":"HK2T1","z":2.3},{"r":75,"c":"LK2T2","z":0.9},{"r":75,"c":"HK2T2","z":0.6},
{"r":76,"c":"LK1T1","z":-1.2},{"r":76,"c":"HK1T1","z":-1.4},{"r":76,"c":"LK1T2","z":-2},{"r":76,"c":"HK1T2","z":-2},{"r":76,"c":"LK2T1","z":2.3},{"r":76,"c":"HK2T1","z":0.1},{"r":76,"c":"LK2T2","z":-1.8},{"r":76,"c":"HK2T2","z":1},
{"r":77,"c":"LK1T1","z":-2.4},{"r":77,"c":"HK1T1","z":1},{"r":77,"c":"LK1T2","z":-2.4},{"r":77,"c":"HK1T2","z":-1.6},{"r":77,"c":"LK2T1","z":2.4},{"r":77,"c":"HK2T1","z":-0.1},{"r":77,"c":"LK2T2","z":-1.5},{"r":77,"c":"HK2T2","z":1.5},
{"r":78,"c":"LK1T1","z":0.5},{"r":78,"c":"HK1T1","z":1.1},{"r":78,"c":"LK1T2","z":-0.2},{"r":78,"c":"HK1T2","z":-2},{"r":78,"c":"LK2T1","z":-0.1},{"r":78,"c":"HK2T1","z":1.9},{"r":78,"c":"LK2T2","z":-1.8},{"r":78,"c":"HK2T2","z":-0.9},
{"r":79,"c":"LK1T1","z":0.6},{"r":79,"c":"HK1T1","z":0.4},{"r":79,"c":"LK1T2","z":-1.2},{"r":79,"c":"HK1T2","z":-1.6},{"r":79,"c":"LK2T1","z":0.2},{"r":79,"c":"HK2T1","z":2.4},{"r":79,"c":"LK2T2","z":-1.5},{"r":79,"c":"HK2T2","z":-1},
{"r":80,"c":"LK1T1","z":-0.3},{"r":80,"c":"HK1T1","z":1.5},{"r":80,"c":"LK1T2","z":-2},{"r":80,"c":"HK1T2","z":-0.9},{"r":80,"c":"LK2T1","z":0.4},{"r":80,"c":"HK2T1","z":2.4},{"r":80,"c":"LK2T2","z":-1.6},{"r":80,"c":"HK2T2","z":-1.8},
{"r":81,"c":"LK1T1","z":-0.3},{"r":81,"c":"HK1T1","z":1.6},{"r":81,"c":"LK1T2","z":-2.1},{"r":81,"c":"HK1T2","z":-0.9},{"r":81,"c":"LK2T1","z":0.8},{"r":81,"c":"HK2T1","z":2.4},{"r":81,"c":"LK2T2","z":-1},{"r":81,"c":"HK2T2","z":-1.6},
{"r":82,"c":"LK1T1","z":0.5},{"r":82,"c":"HK1T1","z":2.3},{"r":82,"c":"LK1T2","z":-1.9},{"r":82,"c":"HK1T2","z":-1},{"r":82,"c":"LK2T1","z":0.7},{"r":82,"c":"HK2T1","z":-0.3},{"r":82,"c":"LK2T2","z":-0.8},{"r":82,"c":"HK2T2","z":-2.5},
{"r":83,"c":"LK1T1","z":0.8},{"r":83,"c":"HK1T1","z":2.3},{"r":83,"c":"LK1T2","z":-1.7},{"r":83,"c":"HK1T2","z":-0.9},{"r":83,"c":"LK2T1","z":1},{"r":83,"c":"HK2T1","z":1},{"r":83,"c":"LK2T2","z":-0.3},{"r":83,"c":"HK2T2","z":-2.3},
{"r":84,"c":"LK1T1","z":1.4},{"r":84,"c":"HK1T1","z":1.8},{"r":84,"c":"LK1T2","z":-1.7},{"r":84,"c":"HK1T2","z":-0.7},{"r":84,"c":"LK2T1","z":-1.3},{"r":84,"c":"HK2T1","z":1.6},{"r":84,"c":"LK2T2","z":-2.2},{"r":84,"c":"HK2T2","z":-1.2},
{"r":85,"c":"LK1T1","z":2.1},{"r":85,"c":"HK1T1","z":0.3},{"r":85,"c":"LK1T2","z":-1.2},{"r":85,"c":"HK1T2","z":-0.4},{"r":85,"c":"LK2T1","z":-1.8},{"r":85,"c":"HK2T1","z":2.4},{"r":85,"c":"LK2T2","z":-2.2},{"r":85,"c":"HK2T2","z":-0.5},
{"r":86,"c":"LK1T1","z":2.3},{"r":86,"c":"HK1T1","z":0.2},{"r":86,"c":"LK1T2","z":-0.8},{"r":86,"c":"HK1T2","z":-1.7},{"r":86,"c":"LK2T1","z":0.3},{"r":86,"c":"HK2T1","z":1.5},{"r":86,"c":"LK2T2","z":-2.2},{"r":86,"c":"HK2T2","z":-1.2},
{"r":87,"c":"LK1T1","z":1.7},{"r":87,"c":"HK1T1","z":0.2},{"r":87,"c":"LK1T2","z":-0.6},{"r":87,"c":"HK1T2","z":-1.9},{"r":87,"c":"LK2T1","z":-1.7},{"r":87,"c":"HK2T1","z":1},{"r":87,"c":"LK2T2","z":-2.3},{"r":87,"c":"HK2T2","z":-1.4},
{"r":88,"c":"LK1T1","z":0.5},{"r":88,"c":"HK1T1","z":2.2},{"r":88,"c":"LK1T2","z":1},{"r":88,"c":"HK1T2","z":-1.9},{"r":88,"c":"LK2T1","z":-0.8},{"r":88,"c":"HK2T1","z":0.8},{"r":88,"c":"LK2T2","z":-2.2},{"r":88,"c":"HK2T2","z":-1},
{"r":89,"c":"LK1T1","z":0.4},{"r":89,"c":"HK1T1","z":2.3},{"r":89,"c":"LK1T2","z":-0.2},{"r":89,"c":"HK1T2","z":-1.2},{"r":89,"c":"LK2T1","z":-0.5},{"r":89,"c":"HK2T1","z":1},{"r":89,"c":"LK2T2","z":-2.1},{"r":89,"c":"HK2T2","z":-0.9},
{"r":90,"c":"LK1T1","z":1.5},{"r":90,"c":"HK1T1","z":0.3},{"r":90,"c":"LK1T2","z":-1.8},{"r":90,"c":"HK1T2","z":-1},{"r":90,"c":"LK2T1","z":2.1},{"r":90,"c":"HK2T1","z":-0.2},{"r":90,"c":"LK2T2","z":-1.3},{"r":90,"c":"HK2T2","z":-2.2},
{"r":91,"c":"LK1T1","z":1.3},{"r":91,"c":"HK1T1","z":0.6},{"r":91,"c":"LK1T2","z":-1.4},{"r":91,"c":"HK1T2","z":-2},{"r":91,"c":"LK2T1","z":2.1},{"r":91,"c":"HK2T1","z":1.5},{"r":91,"c":"LK2T2","z":-1.5},{"r":91,"c":"HK2T2","z":-1.9},
{"r":92,"c":"LK1T1","z":0.8},{"r":92,"c":"HK1T1","z":-0.6},{"r":92,"c":"LK1T2","z":-1.5},{"r":92,"c":"HK1T2","z":-2},{"r":92,"c":"LK2T1","z":2.2},{"r":92,"c":"HK2T1","z":-0.1},{"r":92,"c":"LK2T2","z":-1.4},{"r":92,"c":"HK2T2","z":-1.5},
{"r":93,"c":"LK1T1","z":2.2},{"r":93,"c":"HK1T1","z":-0.2},{"r":93,"c":"LK1T2","z":-1.8},{"r":93,"c":"HK1T2","z":-2.3},{"r":93,"c":"LK2T1","z":2.7},{"r":93,"c":"HK2T1","z":-0.3},{"r":93,"c":"LK2T2","z":0.2},{"r":93,"c":"HK2T2","z":-1.2},
{"r":94,"c":"LK1T1","z":0.3},{"r":94,"c":"HK1T1","z":0.4},{"r":94,"c":"LK1T2","z":-1.6},{"r":94,"c":"HK1T2","z":-2},{"r":94,"c":"LK2T1","z":2.6},{"r":94,"c":"HK2T1","z":-1},{"r":94,"c":"LK2T2","z":0.1},{"r":94,"c":"HK2T2","z":-1.6},
{"r":95,"c":"LK1T1","z":2.1},{"r":95,"c":"HK1T1","z":-0.4},{"r":95,"c":"LK1T2","z":0.7},{"r":95,"c":"HK1T2","z":-2.6},{"r":95,"c":"LK2T1","z":2.2},{"r":95,"c":"HK2T1","z":-1.7},{"r":95,"c":"LK2T2","z":0.1},{"r":95,"c":"HK2T2","z":-1.7}
]},
"layer":[
{"data":{"name":"bars"},"mark":{"type":"bar"},"encoding":{
"x":{"field":"g","type":"nominal","sort":null,"scale":{"range":[137,751],"paddingInner":0.33,"paddingOuter":0.353},"axis":{"title":"Compared groups","titleFont":"Liberation Serif","titleFontSize":34,"titleFontWeight":"bold","titleColor":"#000","titleX":446,"titleY":249,"titleLimit":600,"offset":-902,"labelAngle":-45,"labelFont":"Liberation Serif","labelFontSize":31,"labelColor":"#000","labelLimit":400,"labelPadding":9,"tickSize":17,"tickWidth":5,"tickColor":"#000","domainWidth":5,"domainColor":"#000","zindex":1}},
"y":{"field":"n","type":"quantitative","stack":"zero","scale":{"domain":[0,8000],"range":[507,52],"nice":false},"axis":{"title":"Number of DEGs","titleFont":"Liberation Serif","titleFontSize":34,"titleFontWeight":"bold","titleColor":"#000","titleX":-109,"titleY":279,"titleLimit":600,"offset":-138,"values":[0,2000,4000,6000,8000],"format":"d","labelFont":"Liberation Sans","labelFontWeight":"bold","labelFontSize":30,"labelColor":"#000","labelPadding":5,"tickSize":17,"tickWidth":5,"tickColor":"#000","domainWidth":5,"domainColor":"#000","zindex":1}},
"fill":{"field":"t","type":"nominal","scale":{"domain":["Down-regulated","Up-regulated"],"range":["#ee2027","#3b53a4"]},"legend":null},
"order":{"field":"k","type":"quantitative"}}},
{"data":{"name":"barLegend"},"encoding":{"x":{"field":"k","type":"quantitative","scale":{"domain":[0,614],"range":[136,750]},"axis":null},"y":{"field":"n","type":"quantitative","scale":{"domain":[0,8000],"range":[507,52]},"axis":null}},"layer":[
{"mark":{"type":"point","filled":true,"opacity":1,"size":4,"shape":"M-22 -10.5L22 -10.5L22 10.5L-22 10.5Z"},"encoding":{"fill":{"field":"t","type":"nominal","scale":{"domain":["Down-regulated","Up-regulated"],"range":["#ee2027","#3b53a4"]},"legend":null}}},
{"mark":{"type":"text","align":"left","baseline":"middle","dx":46,"font":"Liberation Serif","fontSize":33.5,"color":"#222"},"encoding":{"text":{"field":"t","type":"nominal"}}}]},
{"data":{"name":"letters"},"mark":{"type":"text","font":"Liberation Sans","fontWeight":"bold","fontSize":25,"color":"#000","baseline":"middle"},"encoding":{"x":{"field":"x","type":"quantitative","scale":{"domain":[0,1417],"range":[0,1417]},"axis":null},"y":{"field":"y","type":"quantitative","scale":{"domain":[0,1409],"range":[0,1409]},"axis":null},"text":{"field":"t","type":"nominal"}}},
{"encoding":{"x":{"field":"u","type":"quantitative","scale":{"domain":[-100,100],"range":[998.5,1198.5]},"axis":null},"y":{"field":"v","type":"quantitative","scale":{"domain":[0,1000],"range":[0,1000]},"axis":null}},"layer":[
{"data":{"name":"ellipses"},"mark":{"type":"point","filled":true,"opacity":1,"size":4},"encoding":{"shape":{"field":"e","type":"nominal","scale":{"domain":["y","g","b","r"],"range":["M174.4 190.1C123.9 236.4 4.9 188.8 -91.4 83.8C-187.7 -21.2 -224.9 -143.8 -174.4 -190.1C-123.9 -236.4 -4.9 -188.8 91.4 -83.8C187.7 21.2 224.9 143.8 174.4 190.1Z","M-174.4 190.1C-123.9 236.4 -4.9 188.8 91.4 83.8C187.7 -21.2 224.9 -143.8 174.4 -190.1C123.9 -236.4 4.9 -188.8 -91.4 -83.8C-187.7 21.2 -224.9 143.8 -174.4 190.1Z","M177.1 190.3C127 236.9 7 189.5 -90.8 84.4C-188.6 -20.7 -227.2 -143.7 -177.1 -190.3C-127 -236.9 -7 -189.5 90.8 -84.4C188.6 20.7 227.2 143.7 177.1 190.3Z","M-177.1 190.3C-127 236.9 -7 189.5 90.8 84.4C188.6 -20.7 227.2 -143.7 177.1 -190.3C127 -236.9 7 -189.5 -90.8 -84.4C-188.6 20.7 -227.2 143.7 -177.1 190.3Z"]},"legend":null},"fill":{"field":"e","type":"nominal","scale":{"domain":["y","g","b","r","r96","r158","r177","r88","r199","r386","r1348","r344","r117","r139","r87"],"range":["#fbf5ad","#b5d9a2","#abaad4","#f8a7ac","#c8c6a8","#c8aa70","#b5d566","#8ecb72","#c9a94a","#72c6ac","#f8a96e","#ad9048","#a5856f","#df8570","#c76fac"]},"legend":null}}},
{"data":{"name":"patches"},"mark":{"type":"line","interpolate":"linear-closed","strokeWidth":0,"opacity":1},"encoding":{"fill":{"field":"e","type":"nominal","legend":null},"order":{"field":"i","type":"quantitative"}}},
{"data":{"name":"ellipses"},"mark":{"type":"point","filled":false,"opacity":1,"size":4,"stroke":"#000","strokeWidth":1.6},"encoding":{"shape":{"field":"e","type":"nominal","legend":null}}},
{"data":{"name":"venn"},"mark":{"type":"text","font":"Liberation Serif","fontWeight":"bold","fontSize":21,"color":"#111","baseline":"middle","dy":1},"encoding":{"text":{"field":"n","type":"nominal"}}},
{"data":{"name":"venn"},"mark":{"type":"text","font":"Liberation Serif","fontWeight":"bold","fontSize":14.5,"color":"#222","baseline":"middle","dy":19},"encoding":{"text":{"field":"s","type":"nominal"}}},
{"data":{"name":"names"},"mark":{"type":"text","font":"Liberation Serif","fontWeight":"bold","fontSize":20.5,"baseline":"middle","dy":1},"encoding":{"text":{"field":"t","type":"nominal"},"color":{"field":"e","type":"nominal","scale":{"domain":["y","g","b","r"],"range":["#7c7a2e","#1a8f4a","#3b55a5","#ee2229"]},"legend":null}}}
],"resolve":{"scale":{"color":"independent"}}},
{"encoding":{"x":{"field":"u","type":"quantitative","scale":{"domain":[-100,100],"range":[240.3,447.7]},"axis":null},"y":{"field":"v","type":"quantitative","scale":{"domain":[154,477],"range":[942,1295]},"axis":null}},"layer":[
{"data":{"name":"ellipses"},"mark":{"type":"point","filled":true,"opacity":1,"size":4},"encoding":{"shape":{"field":"e","type":"nominal","scale":{"domain":["y","g","b","r"],"range":["M180.9 207.8C128.5 258.4 5.1 206.4 -94.8 91.6C-194.6 -23.2 -233.2 -157.2 -180.9 -207.8C-128.5 -258.4 -5.1 -206.4 94.8 -91.6C194.6 23.2 233.2 157.2 180.9 207.8Z","M-180.9 207.8C-128.5 258.4 -5.1 206.4 94.8 91.6C194.6 -23.2 233.2 -157.2 180.9 -207.8C128.5 -258.4 5.1 -206.4 -94.8 -91.6C-194.6 23.2 -233.2 157.2 -180.9 207.8Z","M183.7 208C131.7 258.9 7.3 207.1 -94.2 92.3C-195.6 -22.6 -235.6 -157.1 -183.7 -208C-131.7 -258.9 -7.3 -207.1 94.2 -92.3C195.6 22.6 235.6 157.1 183.7 208Z","M-183.7 208C-131.7 258.9 -7.3 207.1 94.2 92.3C195.6 -22.6 235.6 -157.1 183.7 -208C131.7 -258.9 7.3 -207.1 -94.2 -92.3C-195.6 22.6 -235.6 157.1 -183.7 208Z"]},"legend":null},"fill":{"field":"e","type":"nominal","scale":{"domain":["y","g","b","r","r96","r158","r177","r88","r199","r386","r1348","r344","r117","r139","r87"],"range":["#fbf5ad","#b5d9a2","#abaad4","#f8a7ac","#c8c6a8","#c8aa70","#b5d566","#8ecb72","#c9a94a","#72c6ac","#f8a96e","#ad9048","#a5856f","#df8570","#c76fac"]},"legend":null}}},
{"data":{"name":"patches"},"mark":{"type":"line","interpolate":"linear-closed","strokeWidth":0,"opacity":1},"encoding":{"fill":{"field":"e","type":"nominal","legend":null},"order":{"field":"i","type":"quantitative"}}},
{"data":{"name":"ellipses"},"mark":{"type":"point","filled":false,"opacity":1,"size":4,"stroke":"#000","strokeWidth":1.6},"encoding":{"shape":{"field":"e","type":"nominal","legend":null}}},
{"data":{"name":"venn"},"mark":{"type":"text","font":"Liberation Serif","fontWeight":"bold","fontSize":21.5,"color":"#111","baseline":"middle","dx":2,"dy":1},"encoding":{"text":{"field":"n2","type":"nominal"}}},
{"data":{"name":"venn"},"mark":{"type":"text","font":"Liberation Serif","fontWeight":"bold","fontSize":14.5,"color":"#222","baseline":"middle","dx":2,"dy":20},"encoding":{"text":{"field":"s2","type":"nominal"}}},
{"data":{"name":"names"},"mark":{"type":"text","font":"Liberation Serif","fontWeight":"bold","fontSize":21.3,"baseline":"middle","dx":1,"dy":2},"encoding":{"text":{"field":"t2","type":"nominal"},"color":{"field":"e","type":"nominal","scale":{"domain":["y","g","b","r"],"range":["#7c7a2e","#1a8f4a","#3b55a5","#ee2229"]},"legend":null}}}
],"resolve":{"scale":{"color":"independent"}}},
{"data":{"name":"heat"},"mark":{"type":"rect","strokeWidth":0.3},"encoding":{
"x":{"field":"c","type":"nominal","scale":{"domain":["LK1T1","HK1T1","LK1T2","HK1T2","LK2T1","HK2T1","LK2T2","HK2T2"],"range":[852,1412],"paddingInner":0,"paddingOuter":0},"axis":{"title":null,"orient":"bottom","offset":-109,"ticks":false,"domain":false,"labelAngle":-90,"labelFont":"Liberation Sans","labelFontSize":11,"labelColor":"#444","labelPadding":7,"labelOffset":-5}},
"y":{"field":"r","type":"ordinal","scale":{"range":[822,1300],"paddingInner":0,"paddingOuter":0},"axis":null},
"fill":{"field":"z","type":"quantitative","scale":{"domain":[-3,-2,-1.5,-1,0,1,2,2.5,3],"range":["#ed1c24","#8b1518","#6a0c0f","#470b0b","#000000","#1a5f33","#1f9a4a","#35b54c","#70c044"]},"legend":null},
"stroke":{"field":"z","type":"quantitative","scale":{"domain":[-3,-2,-1.5,-1,0,1,2,2.5,3],"range":["#ed1c24","#8b1518","#6a0c0f","#470b0b","#000000","#1a5f33","#1f9a4a","#35b54c","#70c044"]},"legend":null}}},
{"data":{"name":"scaleKey"},"mark":{"type":"rect","strokeWidth":0.5},"encoding":{
"x":{"field":"z","type":"quantitative","scale":{"domain":[-2.4,2.4],"range":[765,838]},"axis":{"title":"Row Z-Score","orient":"bottom","titleFont":"Liberation Sans","titleFontSize":9.5,"titleFontWeight":"normal","titleColor":"#555","titlePadding":3,"offset":-644,"values":[-2,-1,0,1,2],"labelExpr":"abs(datum.value)==1?'':datum.label","labelFont":"Liberation Sans","labelFontSize":9.5,"labelColor":"#555","labelPadding":3,"tickSize":5,"tickColor":"#333","domain":false}},
"x2":{"field":"z2"},
"y":{"datum":0,"type":"quantitative","scale":{"domain":[0,1],"range":[742,765]},"axis":null},"y2":{"datum":1},
"fill":{"field":"z","type":"quantitative","scale":{"domain":[-2.4,-1,0,1,2,2.4],"range":["#ed1c24","#5a0c0f","#000000","#1a6a38","#30b04c","#70c044"]},"legend":null},
"stroke":{"field":"z","type":"quantitative","scale":{"domain":[-2.4,-1,0,1,2,2.4],"range":["#ed1c24","#5a0c0f","#000000","#1a6a38","#30b04c","#70c044"]},"legend":null}}},
{"data":{"name":"dendro"},"mark":{"type":"rule","stroke":"#222","strokeWidth":1.2},"encoding":{"x":{"field":"h","type":"quantitative","scale":{"domain":[0,135],"range":[715,850]},"axis":null},"x2":{"field":"h2"},"y":{"field":"p","type":"quantitative","scale":{"domain":[0,478],"range":[822,1300]},"axis":null},"y2":{"field":"p2"}}},
{"data":{"name":"heat"},"transform":[{"filter":"datum.c==='LK1T1'"}],"mark":{"type":"rule","stroke":"#666","strokeWidth":0.8},"encoding":{"x":{"datum":122,"type":"quantitative","scale":{"domain":[0,135],"range":[715,850]},"axis":null},"x2":{"datum":133},"y":{"field":"r","type":"ordinal","scale":{"range":[822,1300],"paddingInner":0,"paddingOuter":0},"axis":null}}},
{"encoding":{"x":{"field":"k","type":"quantitative","scale":{"domain":[0,560],"range":[852,1412]},"axis":null},"y":{"field":"q","type":"quantitative","scale":{"domain":[0,478],"range":[822,1300]},"axis":null}},"layer":[
{"data":{"name":"brackets"},"mark":{"type":"line","stroke":"#222","strokeWidth":2},"encoding":{"detail":{"field":"b"},"order":{"field":"i","type":"quantitative"}}},
{"data":{"name":"arrowTips"},"mark":{"type":"point","filled":true,"opacity":1,"size":4,"fill":"#222","shape":"M0 0L6 11L-6 11Z"}},
{"data":{"name":"potassium"},"mark":{"type":"text","font":"Roboto","fontSize":23.5,"color":"#222","baseline":"middle"},"encoding":{"text":{"field":"t","type":"nominal"}}}]}
]}
